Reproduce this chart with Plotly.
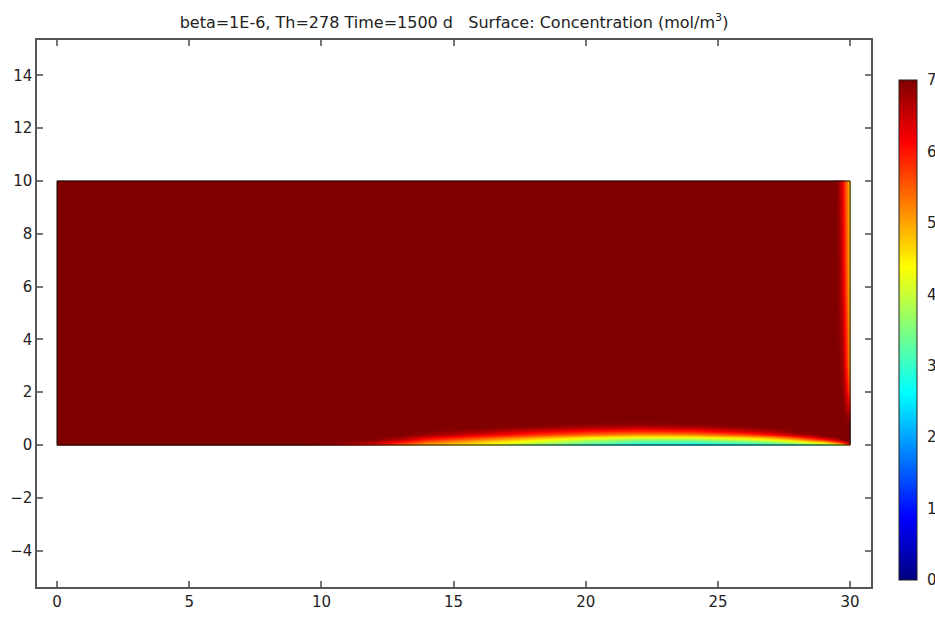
import plotly.graph_objects as go

# ---- domain geometry (model units) ----
domain_x = [0, 30]
domain_y = [0, 10]

# ---- main field: bottom boundary layer (mol/m^3) ----
main_x = [0, 0.02, 9, 10, 11, 12, 13, 14, 16, 18, 20, 22, 24, 26, 27, 28, 29, 29.5]
main_y = [0, 0.02, 0.1, 0.2, 0.3, 0.4, 0.5, 0.6, 0.7, 0.8, 0.9, 1.0, 9.98, 10]
main_c = [
    # x:  0    0.02  9    10    11    12    13    14    16    18    20    22    24    26    27    28    29   29.5
    [7.0, 7.0, 7.0, 6.60, 6.20, 5.80, 5.30, 4.80, 4.20, 3.50, 2.90, 2.50, 2.40, 2.50, 2.70, 2.90, 3.20, 3.80],  # y=0
    [7.0, 7.0, 7.0, 6.75, 6.35, 5.92, 5.40, 4.89, 4.28, 3.60, 3.02, 2.63, 2.54, 2.66, 2.87, 3.10, 3.43, 4.02],  # 0.02
    [7.0, 7.0, 7.0, 6.98, 6.85, 6.55, 5.84, 5.26, 4.62, 3.95, 3.39, 3.04, 2.95, 3.17, 3.39, 3.76, 4.42, 5.18],  # 0.1
    [7.0, 7.0, 7.0, 7.00, 7.00, 6.97, 6.47, 5.86, 5.15, 4.50, 3.93, 3.58, 3.60, 3.94, 4.29, 4.87, 5.82, 6.55],  # 0.2
    [7.0, 7.0, 7.0, 7.00, 7.00, 7.00, 6.90, 6.38, 5.77, 5.18, 4.66, 4.39, 4.42, 4.84, 5.19, 5.85, 6.77, 7.00],  # 0.3
    [7.0, 7.0, 7.0, 7.00, 7.00, 7.00, 7.00, 6.80, 6.27, 5.74, 5.32, 5.07, 5.16, 5.56, 5.97, 6.63, 7.00, 7.00],  # 0.4
    [7.0, 7.0, 7.0, 7.00, 7.00, 7.00, 7.00, 6.96, 6.69, 6.23, 5.89, 5.70, 5.80, 6.28, 6.61, 6.96, 7.00, 7.00],  # 0.5
    [7.0, 7.0, 7.0, 7.00, 7.00, 7.00, 7.00, 7.00, 6.92, 6.68, 6.41, 6.26, 6.36, 6.73, 6.91, 7.00, 7.00, 7.00],  # 0.6
    [7.0, 7.0, 7.0, 7.00, 7.00, 7.00, 7.00, 7.00, 7.00, 6.91, 6.73, 6.64, 6.72, 6.95, 7.00, 7.00, 7.00, 7.00],  # 0.7
    [7.0, 7.0, 7.0, 7.00, 7.00, 7.00, 7.00, 7.00, 7.00, 7.00, 6.94, 6.89, 6.95, 7.00, 7.00, 7.00, 7.00, 7.00],  # 0.8
    [7.0, 7.0, 7.0, 7.00, 7.00, 7.00, 7.00, 7.00, 7.00, 7.00, 7.00, 7.00, 7.00, 7.00, 7.00, 7.00, 7.00, 7.00],  # 0.9
    [7.0, 7.0, 7.0, 7.00, 7.00, 7.00, 7.00, 7.00, 7.00, 7.00, 7.00, 7.00, 7.00, 7.00, 7.00, 7.00, 7.00, 7.00],  # 1.0
    [7.0, 7.0, 7.0, 7.00, 7.00, 7.00, 7.00, 7.00, 7.00, 7.00, 7.00, 7.00, 7.00, 7.00, 7.00, 7.00, 7.00, 7.00],  # 9.98
    [7.0, 7.0, 7.0, 7.00, 7.00, 7.00, 7.00, 7.00, 7.00, 7.00, 7.00, 7.00, 7.00, 7.00, 7.00, 7.00, 7.00, 7.00],  # 10
]

# ---- right boundary strip ----
strip_x = [29.5, 29.6, 29.7, 29.8, 29.9, 29.98, 30]
strip_y = [0, 0.02, 0.1, 0.2, 0.3, 0.5, 0.8, 1.2, 2, 3, 6, 9.98, 10]
strip_c = [
    # x: 29.5  29.6  29.7  29.8  29.9  29.98  30
    [3.80, 4.00, 4.30, 4.60, 5.00, 5.20, 5.30],  # y=0
    [4.02, 4.25, 4.55, 4.85, 5.20, 5.40, 5.50],  # 0.02
    [5.18, 5.44, 5.76, 6.14, 6.58, 6.84, 6.85],  # 0.1
    [6.55, 6.73, 6.90, 7.00, 7.00, 7.00, 7.00],  # 0.2
    [7.00, 7.00, 7.00, 7.00, 7.00, 7.00, 7.00],  # 0.3
    [7.00, 7.00, 7.00, 7.00, 7.00, 7.00, 7.00],  # 0.5
    [7.00, 7.00, 7.00, 7.00, 7.00, 6.97, 6.95],  # 0.8
    [7.00, 7.00, 7.00, 6.95, 6.75, 6.50, 6.30],  # 1.2
    [7.00, 7.00, 6.90, 6.60, 6.00, 5.40, 5.10],  # 2
    [7.00, 6.95, 6.75, 6.30, 5.60, 4.90, 4.60],  # 3
    [7.00, 6.80, 6.40, 5.90, 5.30, 4.70, 4.50],  # 6
    [7.00, 6.65, 6.20, 5.70, 5.20, 4.60, 4.40],  # 9.98
    [7.00, 6.65, 6.20, 5.70, 5.20, 4.60, 4.40],  # 10
]

color_ticks = [0, 1, 2, 3, 4, 5, 6, 7]
x_ticks = [0, 5, 10, 15, 20, 25, 30]
y_ticks = [-4, -2, 0, 2, 4, 6, 8, 10, 12, 14]

jet = [
    [0.0, "#000080"], [0.125, "#0000ff"], [0.375, "#00ffff"],
    [0.625, "#ffff00"], [0.875, "#ff0000"], [1.0, "#800000"],
]

W, H = 935, 618
ml, mr, mt, mb = 37, 64, 40, 31
pw, ph = W - ml - mr, H - mt - mb

fig = go.Figure()
fig.add_trace(go.Heatmap(x=main_x, y=main_y, z=main_c, coloraxis="coloraxis",
                         zsmooth="best", hoverinfo="skip"))
fig.add_trace(go.Heatmap(x=strip_x, y=strip_y, z=strip_c, coloraxis="coloraxis",
                         zsmooth="best", hoverinfo="skip"))

fig.add_shape(type="rect", xref="x", yref="y",
              x0=domain_x[0], x1=domain_x[1], y0=domain_y[0], y1=domain_y[1],
              line=dict(color="#111111", width=1), layer="above")

axis_common = dict(
    showgrid=False, zeroline=False, showline=True, linecolor="#555555", linewidth=1.5,
    mirror="ticks", ticks="inside", ticklen=6, tickwidth=1.5, tickcolor="#777777",
    tickfont=dict(family="DejaVu Sans", size=15, color="#222222"),
)

fig.update_layout(
    width=W, height=H,
    margin=dict(l=ml, r=mr, t=mt, b=mb, pad=0, autoexpand=False),
    paper_bgcolor="white", plot_bgcolor="white",
    showlegend=False,
    title=dict(
        text="beta=1E-6, Th=278 Time=1500 d\u00a0\u00a0\u00a0Surface: Concentration (mol/m<sup>3</sup>)",
        x=0.5, xref="paper", xanchor="center",
        y=1 - 22 / H, yref="container", yanchor="middle",
        font=dict(family="DejaVu Sans", size=16, color="#222222"),
    ),
    xaxis=dict(range=[-0.76, 30.79], tickvals=x_ticks, **axis_common),
    yaxis=dict(range=[-5.38, 15.34], tickvals=y_ticks, **axis_common),
    coloraxis=dict(
        colorscale=jet, cmin=0, cmax=7,
        colorbar=dict(
            x=(899 - ml) / pw, xanchor="left", xpad=0,
            y=(H - mb - 330) / ph, yanchor="middle", ypad=0,
            thickness=18, len=500, lenmode="pixels",
            outlinewidth=1, outlinecolor="#222222",
            tickvals=color_ticks, ticks="outside", ticklen=7,
            tickcolor="rgba(0,0,0,0)",
            tickfont=dict(family="DejaVu Sans", size=15, color="#222222"),
        ),
    ),
)

fig.write_html("out.html")
